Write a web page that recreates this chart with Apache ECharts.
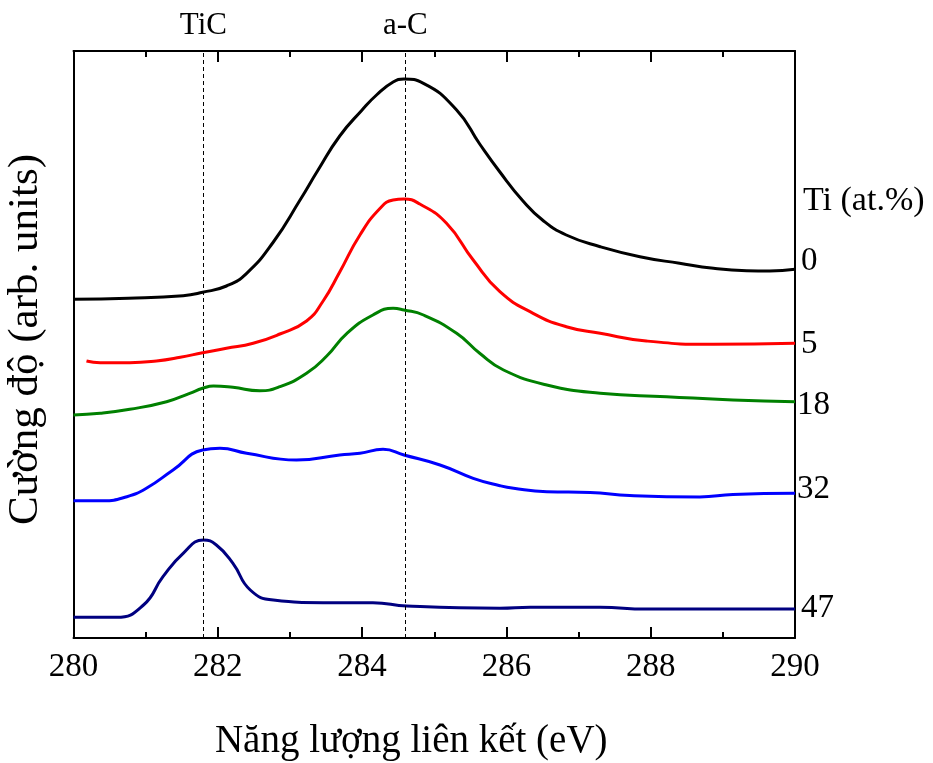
<!DOCTYPE html>
<html>
<head>
<meta charset="utf-8">
<script src="https://cdn.jsdelivr.net/npm/echarts@6/dist/echarts.min.js"></script>
<style>
html,body{margin:0;padding:0;background:#fff;}
#chart{width:933px;height:763px;}
</style>
</head>
<body>
<div id="chart"></div>
<script>
// Binding energy (eV) and intensity (arb. units) for each Ti content
const seriesNames = ['0', '5', '18', '32', '47'];
const seriesColors = ['#000000', '#ff0000', '#008000', '#0000ff', '#000080'];

const ev0 = [280.0, 280.76, 281.52, 281.79, 282.12, 282.4, 282.77, 283.14, 283.39, 283.69, 284.0, 284.2, 284.43, 284.58, 284.85, 285.31, 285.63, 285.91, 286.23, 286.5, 286.83, 287.3, 287.85, 288.4, 288.87, 289.33, 289.65, 290.0];
const int0 = [338.7, 339.7, 342.3, 345.7, 352, 364.7, 396, 438, 468, 502, 528, 543, 556, 559, 554.7, 528, 494, 466, 437, 418, 403, 391.3, 381.3, 374.7, 369.7, 367.3, 367, 368.7];

const ev5 = [280.18, 280.37, 280.78, 281.15, 281.48, 281.79, 282.12, 282.49, 282.86, 283.23, 283.46, 283.69, 283.97, 284.25, 284.43, 284.58, 284.8, 285.17, 285.54, 285.91, 286.37, 286.83, 287.3, 287.94, 288.87, 290.0];
const int5 = [277, 275.3, 275.3, 277, 280.7, 285.3, 289.7, 294.7, 304, 317, 337, 366, 403, 429.7, 438, 439, 434, 414.7, 378, 346.3, 324.7, 311.3, 304.7, 297, 293.7, 294.7];

const ev18 = [280.0, 280.37, 280.78, 281.29, 281.61, 281.79, 281.94, 282.21, 282.58, 282.86, 283.23, 283.51, 283.79, 284.15, 284.43, 284.58, 284.85, 285.31, 285.63, 285.96, 286.56, 287.3, 288.22, 289.14, 290.0];
const int18 = [223, 224.7, 228.7, 236.3, 244.7, 249.7, 252, 250.7, 247.3, 251.3, 264.7, 282, 304.7, 323, 329.7, 328, 323, 304.7, 284.7, 268, 253, 244.7, 241.3, 238, 236.3];

const ev32 = [280.0, 280.41, 280.74, 281.01, 281.38, 281.79, 282.03, 282.4, 283.09, 283.69, 283.97, 284.29, 284.58, 285.08, 285.54, 285.91, 286.1, 286.56, 287.16, 287.71, 288.68, 289.14, 290.0];
const int32 = [137.3, 137.3, 141.3, 149.7, 168, 188, 189.7, 184.7, 178, 183, 184.7, 188.7, 183, 173, 159.7, 152.3, 149.7, 146.3, 145.5, 142.5, 141, 143.5, 144.7];

const ev47 = [280.0, 280.6, 280.97, 281.24, 281.52, 281.8, 281.98, 282.21, 282.45, 282.77, 283.46, 284.15, 284.62, 285.91, 286.33, 287.3, 287.94, 290.0];
const int47 = [20.7, 20.7, 33, 61.3, 84.7, 98, 93, 74.7, 48, 38, 35.3, 35.3, 32, 29.7, 30.7, 30.7, 29, 29];

const xTicks = [280, 282, 284, 286, 288, 290];
const refLines = [{ name: 'TiC', ev: 281.8 }, { name: 'a-C', ev: 284.6 }];
const yMax = 587;

const evs = [ev0, ev5, ev18, ev32, ev47];
const ints = [int0, int5, int18, int32, int47];
const labelOffsets = [[0, -8], [0, 1], [-4, 4], [-4, -4], [0, -1]];

const FONT = '"Liberation Serif", "DejaVu Serif", serif';

const series = seriesNames.map((name, i) => ({
  name: name,
  type: 'line',
  xAxisIndex: 0,
  yAxisIndex: 0,
  data: evs[i].map((x, k) => [x, ints[i][k]]),
  showSymbol: false,
  smooth: 0.5,
  lineStyle: { color: seriesColors[i], width: 3 },
  itemStyle: { color: seriesColors[i] },
  endLabel: {
    show: true,
    formatter: name,
    color: '#000',
    fontFamily: FONT,
    fontSize: 33,
    distance: 6,
    offset: labelOffsets[i]
  },
  z: 3
}));

series.push({
  type: 'line',
  xAxisIndex: 0,
  yAxisIndex: 0,
  data: [],
  markLine: {
    silent: true,
    symbol: 'none',
    label: {
      show: true,
      position: 'end',
      formatter: p => p.name,
      color: '#000',
      fontFamily: FONT,
      fontSize: 31,
      distance: 10
    },
    lineStyle: { color: '#000', type: [4, 3], width: 1 },
    data: refLines.map(r => [
      { name: r.name, coord: [r.ev, 0] },
      { coord: [r.ev, yMax] }
    ])
  },
  z: 2
});

const chart = echarts.init(document.getElementById('chart'), null, { renderer: 'canvas' });

const axisLine = { show: true, onZero: false, lineStyle: { color: '#000', width: 2 } };

chart.setOption({
  animation: false,
  backgroundColor: '#fff',
  grid: { left: 73.5, right: 138, top: 51, bottom: 125, containLabel: false, outerBoundsMode: 'none' },
  xAxis: [
    {
      type: 'value',
      position: 'bottom',
      min: 280, max: 290, interval: 2,
      axisLine: axisLine,
      axisTick: { show: true, inside: true, length: 11, lineStyle: { color: '#000', width: 2 } },
      minorTick: { show: true, splitNumber: 2, length: 6, lineStyle: { color: '#000', width: 2 } },
      splitLine: { show: false },
      axisLabel: {
        color: '#000', fontFamily: FONT, fontSize: 33, margin: 13,
        formatter: v => (xTicks.indexOf(v) >= 0 ? String(v) : '')
      },
      name: 'Năng lượng liên kết (eV)',
      nameLocation: 'middle',
      nameGap: 84,
      nameTextStyle: { color: '#000', fontFamily: FONT, fontSize: 39, padding: [0, 46, 0, 0] }
    },
    {
      type: 'value',
      position: 'top',
      min: 280, max: 290, interval: 2,
      axisLine: axisLine,
      axisTick: { show: true, inside: true, length: 11, lineStyle: { color: '#000', width: 2 } },
      minorTick: { show: true, splitNumber: 2, length: 6, lineStyle: { color: '#000', width: 2 } },
      splitLine: { show: false },
      axisLabel: { show: false }
    }
  ],
  yAxis: [
    {
      type: 'value',
      position: 'left',
      min: 0, max: yMax,
      axisLine: axisLine,
      axisTick: { show: false },
      axisLabel: { show: false },
      splitLine: { show: false },
      name: 'Cường độ (arb. units)',
      nameLocation: 'middle',
      nameGap: 26,
      nameRotate: 90,
      nameTextStyle: { color: '#000', fontFamily: FONT, fontSize: 43, padding: [0, 0, 0, 10] }
    },
    {
      type: 'value',
      position: 'right',
      min: 0, max: yMax,
      axisLine: axisLine,
      axisTick: { show: false },
      axisLabel: { show: false },
      splitLine: { show: false }
    }
  ],
  graphic: [
    {
      type: 'text',
      left: 803,
      top: 184,
      style: { text: 'Ti (at.%)', fill: '#000', font: '34px ' + FONT }
    }
  ],
  series: series
});
</script>
</body>
</html>
